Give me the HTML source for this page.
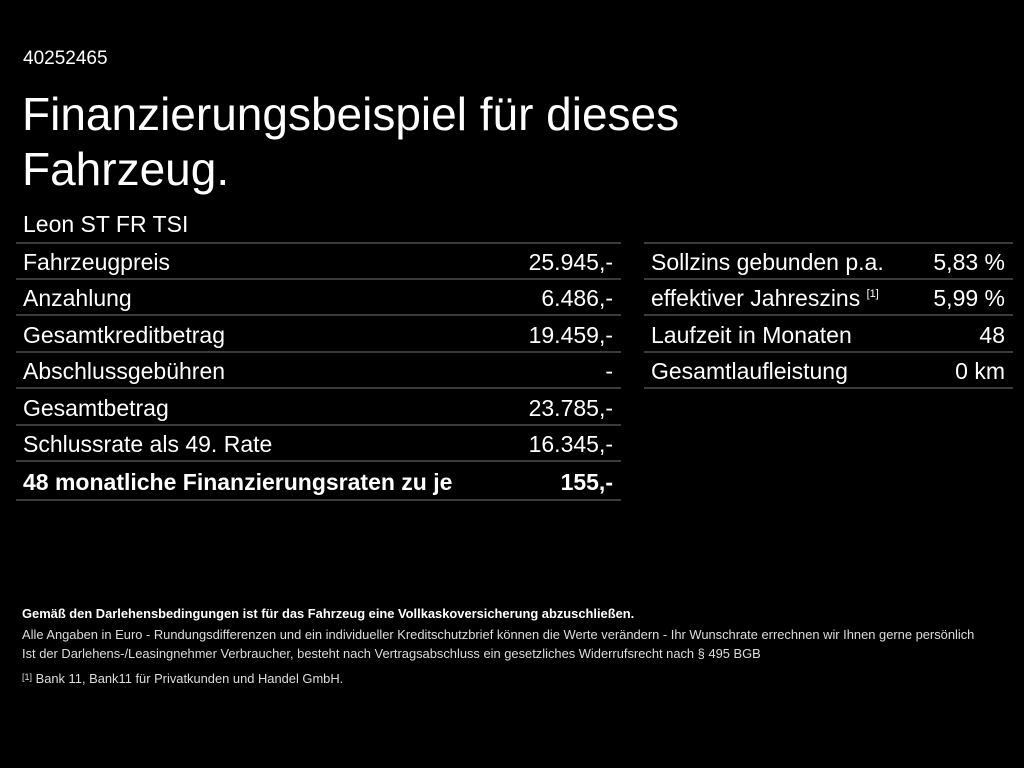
<!DOCTYPE html>
<html><head><meta charset="utf-8"><style>
body{margin:0;width:1024px;height:768px;background:#000;color:#fff;font-family:"Liberation Sans",sans-serif;position:relative;overflow:hidden}
.a{position:absolute;white-space:nowrap}
.r{position:absolute;height:36px;line-height:36px;font-size:23px;border-bottom:2px solid #3a3a3a;box-sizing:border-box;white-space:nowrap}
.r span{position:absolute;right:8px;top:0}
.s{font-size:12.9px;color:#ddd}
</style></head><body>
<div class="a" style="left:23px;top:48px;font-size:19px">40252465</div>
<div class="a" style="left:22px;top:87px;font-size:46px;line-height:55px">Finanzierungsbeispiel für dieses<br>Fahrzeug.</div>
<div class="a" style="left:23px;top:211px;font-size:23px">Leon ST FR TSI</div>
<div style="position:absolute;left:16px;top:242px;width:605px;height:2px;background:#3a3a3a"></div>
<div style="position:absolute;left:644px;top:242px;width:369px;height:2px;background:#3a3a3a"></div>
<div class="r" style="left:16px;top:244px;width:605px;padding-left:7px">Fahrzeugpreis<span>25.945,-</span></div>
<div class="r" style="left:16px;top:280px;width:605px;padding-left:7px">Anzahlung<span>6.486,-</span></div>
<div class="r" style="left:16px;top:317px;width:605px;padding-left:7px">Gesamtkreditbetrag<span>19.459,-</span></div>
<div class="r" style="left:16px;top:353px;width:605px;padding-left:7px">Abschlussgebühren<span>-</span></div>
<div class="r" style="left:16px;top:390px;width:605px;padding-left:7px">Gesamtbetrag<span>23.785,-</span></div>
<div class="r" style="left:16px;top:426px;width:605px;padding-left:7px">Schlussrate als 49. Rate<span>16.345,-</span></div>
<div class="r" style="left:16px;top:463px;width:605px;padding-left:7px;font-weight:bold;height:38px;line-height:38px">48 monatliche Finanzierungsraten zu je<span>155,-</span></div>
<div class="r" style="left:644px;top:244px;width:369px;padding-left:7px">Sollzins gebunden p.a.<span>5,83 %</span></div>
<div class="r" style="left:644px;top:280px;width:369px;padding-left:7px">effektiver Jahreszins <sup style="font-size:11px;line-height:0;vertical-align:9px">[1]</sup><span>5,99 %</span></div>
<div class="r" style="left:644px;top:317px;width:369px;padding-left:7px">Laufzeit in Monaten<span>48</span></div>
<div class="r" style="left:644px;top:353px;width:369px;padding-left:7px">Gesamtlaufleistung<span>0 km</span></div>
<div class="a s" style="left:22px;top:606px;font-weight:bold;color:#fff">Gemäß den Darlehensbedingungen ist für das Fahrzeug eine Vollkaskoversicherung abzuschließen.</div>
<div class="a s" style="left:22px;top:627px">Alle Angaben in Euro - Rundungsdifferenzen und ein individueller Kreditschutzbrief können die Werte verändern - Ihr Wunschrate errechnen wir Ihnen gerne persönlich</div>
<div class="a s" style="left:22px;top:646px">Ist der Darlehens-/Leasingnehmer Verbraucher, besteht nach Vertragsabschluss ein gesetzliches Widerrufsrecht nach § 495 BGB</div>
<div class="a s" style="left:22px;top:671px"><span style="font-size:9px;vertical-align:3px">[1]</span> Bank 11, Bank11 für Privatkunden und Handel GmbH.</div>
</body></html>
